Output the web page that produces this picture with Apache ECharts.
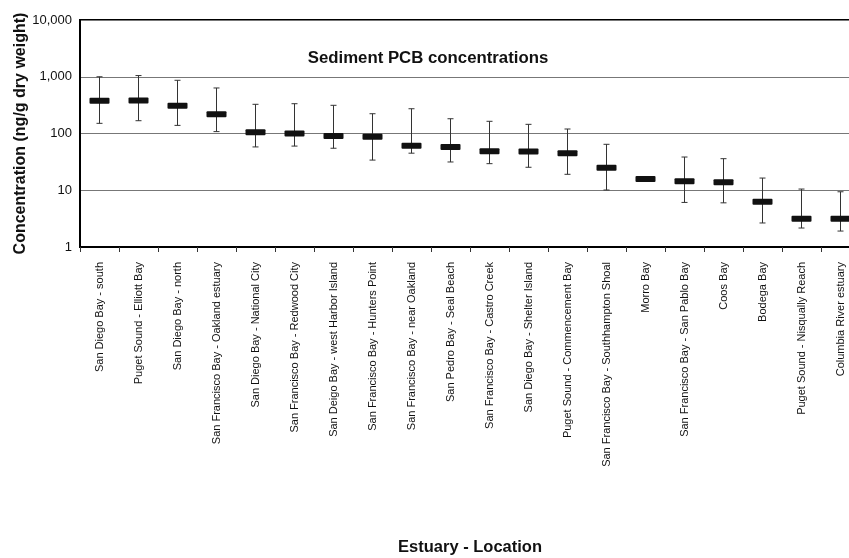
<!DOCTYPE html>
<html>
<head>
<meta charset="utf-8">
<script src="https://cdn.jsdelivr.net/npm/echarts@6/dist/echarts.min.js"></script>
<style>
html,body{margin:0;padding:0;background:#fff;}
#chart{width:849px;height:558px;}
</style>
</head>
<body>
<div id="chart"></div>
<script>
const categories = [
  'San Diego Bay - south',
  'Puget Sound - Elliott Bay',
  'San Diego Bay - north',
  'San Francisco Bay - Oakland estuary',
  'San Diego Bay - National City',
  'San Francisco Bay - Redwood City',
  'San Deigo Bay - west Harbor Island',
  'San Francisco Bay - Hunters Point',
  'San Francisco Bay - near Oakland',
  'San Pedro Bay - Seal Beach',
  'San Francisco Bay - Castro Creek',
  'San Diego Bay - Shelter Island',
  'Puget Sound - Commencement Bay',
  'San Francisco Bay - Southhampton Shoal',
  'Morro Bay',
  'San Francisco Bay - San Pablo Bay',
  'Coos Bay',
  'Bodega Bay',
  'Puget Sound - Nisqually Reach',
  'Columbia River estuary'
];
const medians = [378, 380, 309, 218, 105, 100, 90, 88, 61, 58, 48.5, 48, 45, 25, 15.8, 14.4, 13.8, 6.3, 3.15, 3.15];
const lows    = [151, 168, 139, 108, 58, 60, 55, 34, 45, 31.5, 29.4, 25.4, 19.1, 10.1, null, 6.1, 6.0, 2.65, 2.16, 1.91];
const highs   = [1000, 1050, 866, 634, 327, 335, 314, 223, 273, 182, 164, 145, 120, 64.5, null, 38.5, 36, 16.4, 10.5, 9.4];
const yTickLabels = {1: '1', 10: '10', 100: '100', 1000: '1,000', 10000: '10,000'};
const chartTitle = 'Sediment PCB concentrations';

const FONT = "'Liberation Sans', Arial, sans-serif";

function renderItem(params, api) {
  const i = params.dataIndex;
  const x = api.value(0);
  const c = api.coord([x, api.value(1)]);
  const children = [];
  if (highs[i] != null && lows[i] != null) {
    const hi = api.coord([x, highs[i]]);
    const lo = api.coord([x, lows[i]]);
    const ws = {stroke: '#333', lineWidth: 1};
    children.push({type: 'line', shape: {x1: c[0], y1: hi[1], x2: c[0], y2: lo[1]}, style: ws});
    children.push({type: 'line', shape: {x1: c[0] - 3, y1: hi[1], x2: c[0] + 3, y2: hi[1]}, style: ws});
    children.push({type: 'line', shape: {x1: c[0] - 3, y1: lo[1], x2: c[0] + 3, y2: lo[1]}, style: ws});
  }
  children.push({type: 'rect', shape: {x: c[0] - 10, y: c[1] - 3, width: 20, height: 6, r: 1}, style: {fill: '#111'}});
  return {type: 'group', children: children};
}

const chart = echarts.init(document.getElementById('chart'), null, {renderer: 'canvas'});
chart.setOption({
  animation: false,
  backgroundColor: '#fff',
  textStyle: {fontFamily: FONT},
  graphic: [{
    type: 'text',
    x: 428, y: 58,
    style: {
      text: chartTitle, textAlign: 'center', textVerticalAlign: 'middle',
      font: "bold 16.8px 'Liberation Sans', Arial, sans-serif", fill: '#111'
    }
  }],
  grid: {
    left: 80, right: -11, top: 20, bottom: 311,
    containLabel: false, outerBoundsMode: 'none',
    show: true, borderColor: '#000', borderWidth: 2, backgroundColor: 'transparent'
  },
  xAxis: {
    type: 'category',
    data: categories,
    boundaryGap: true,
    name: 'Estuary - Location',
    nameLocation: 'middle',
    nameGap: 292,
    nameMoveOverlap: false,
    nameTextStyle: {fontFamily: FONT, fontSize: 16.5, fontWeight: 'bold', color: '#111'},
    axisLine: {show: true, lineStyle: {color: '#000', width: 2}},
    axisTick: {show: true, alignWithLabel: false, length: 5, lineStyle: {color: '#333'}},
    axisLabel: {interval: 0, rotate: 90, fontSize: 11, color: '#111', margin: 15, fontFamily: FONT},
    splitLine: {show: false}
  },
  yAxis: {
    type: 'log',
    logBase: 10,
    min: 1, max: 10000,
    name: 'Concentration (ng/g dry weight)',
    nameLocation: 'middle',
    nameGap: 51,
    nameMoveOverlap: false,
    nameTextStyle: {fontFamily: FONT, fontSize: 16, fontWeight: 'bold', color: '#111'},
    axisLine: {show: true, lineStyle: {color: '#000', width: 2}},
    axisTick: {show: false},
    axisLabel: {
      fontSize: 13, color: '#111', margin: 8, fontFamily: FONT,
      formatter: function (v) { return yTickLabels[Math.round(v)] || ''; }
    },
    splitLine: {show: true, lineStyle: {color: '#777', width: 1}}
  },
  series: [{
    type: 'custom',
    renderItem: renderItem,
    clip: false,
    data: categories.map(function (c, i) { return [i, medians[i]]; })
  }]
});
</script>
</body>
</html>
